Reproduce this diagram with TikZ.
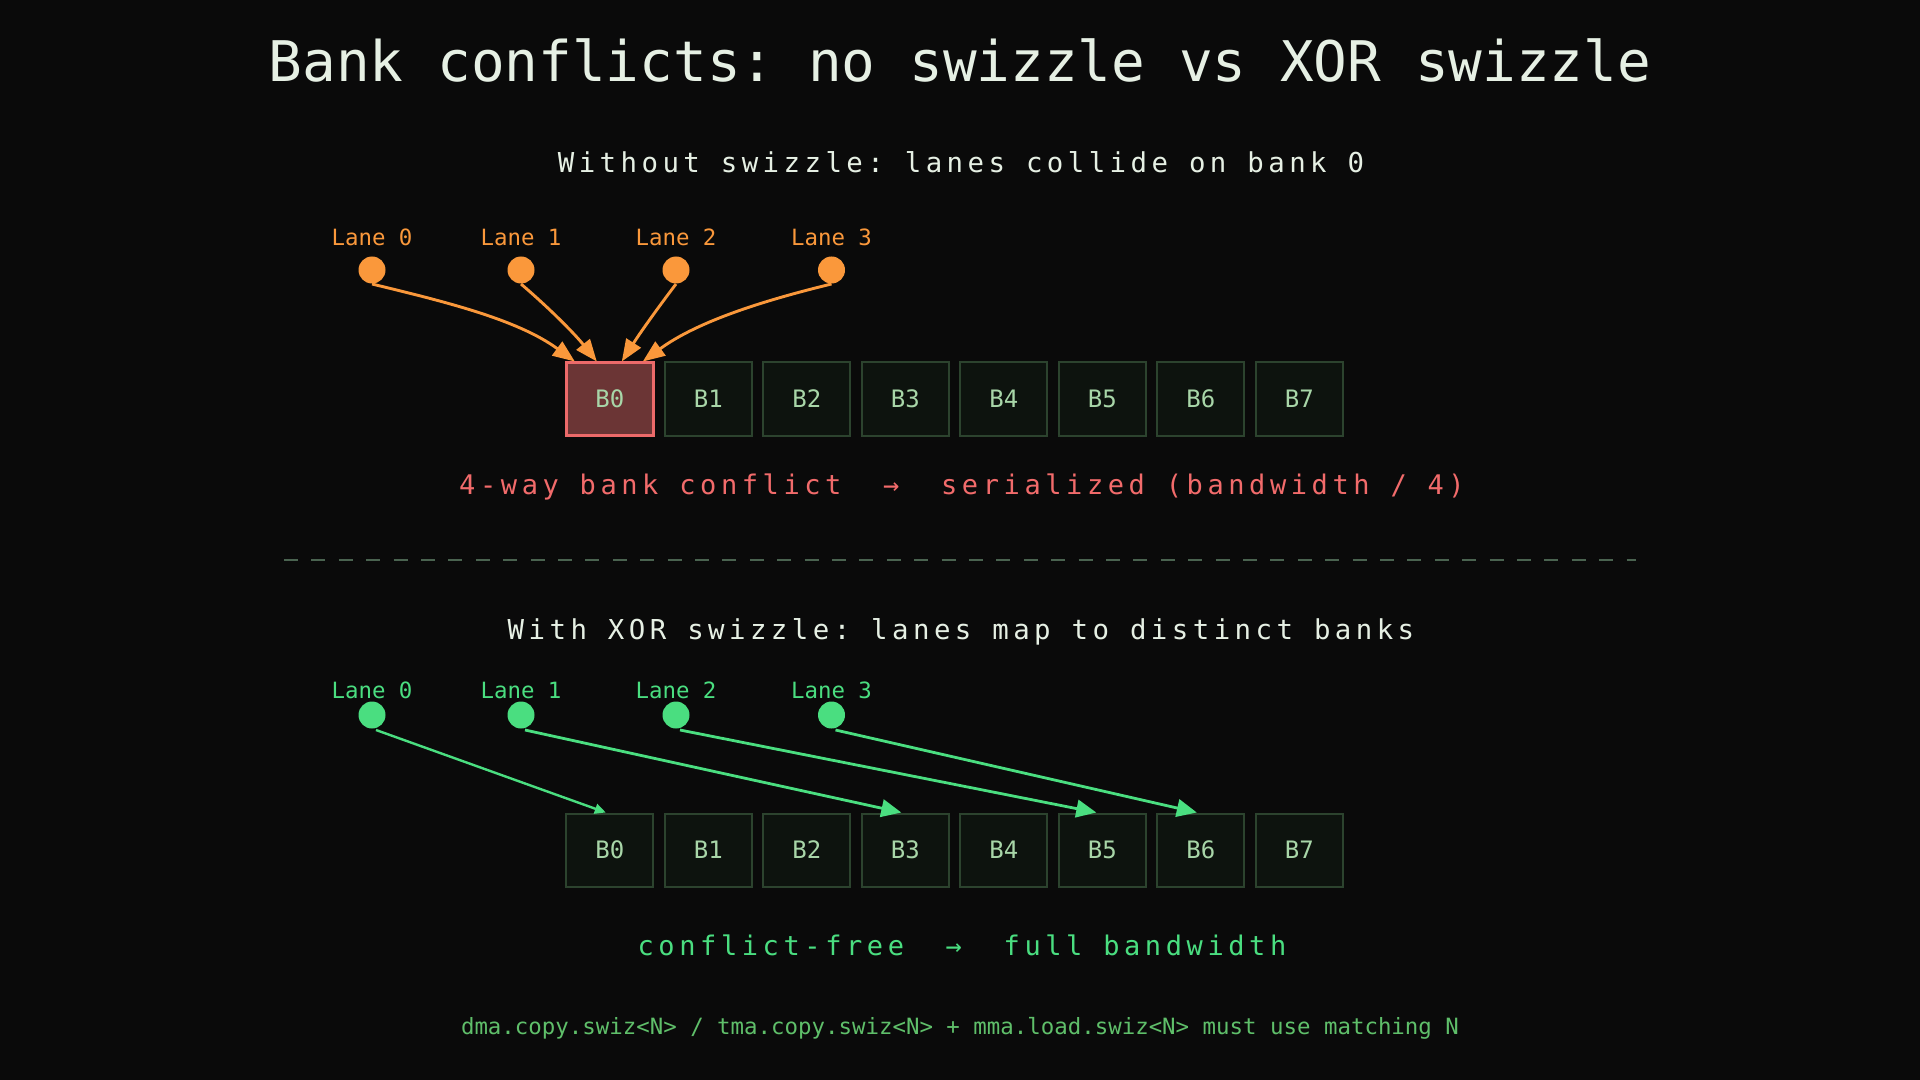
\documentclass[tikz,border=0pt]{standalone}
\usepackage{fontspec}
\setmainfont{DejaVu Sans Mono}
\setmonofont{DejaVu Sans Mono}
\newfontfamily\subfont[LetterSpace=16.2]{DejaVu Sans Mono}
\newfontfamily\notefont[LetterSpace=17]{DejaVu Sans Mono}
\usetikzlibrary{arrows.meta}
\frenchspacing
\definecolor{bg}{HTML}{0A0A0A}
\definecolor{titlecol}{HTML}{E6F0E4}
\definecolor{orangecol}{HTML}{FA983B}
\definecolor{redtext}{HTML}{F26B6B}
\definecolor{hotfill}{HTML}{6B3535}
\definecolor{hotedge}{HTML}{EC6A6A}
\definecolor{bankfill}{HTML}{0D130E}
\definecolor{bankedge}{HTML}{2C432E}
\definecolor{banktext}{HTML}{A8D6A8}
\definecolor{greencol}{HTML}{4ADE80}
\definecolor{footcol}{HTML}{5FBF6A}
\definecolor{dashcol}{HTML}{4A6350}
\tikzset{
  lanedot/.style={circle, inner sep=0pt, outer sep=0pt, minimum size=13.5pt},
  bank/.style={draw=bankedge, fill=bankfill, line width=1pt, minimum width=43.5pt, minimum height=36.5pt, inner sep=0pt, outer sep=0pt, text=banktext, font=\fontsize{12}{14}\selectfont},
  hotbank/.style={bank, draw=hotedge, fill=hotfill, line width=1.5pt},
  lanelabel/.style={anchor=base, inner sep=0pt, font=\fontsize{11.2}{13}\selectfont},
  oarrow/.style={draw=orangecol, line width=1.45pt, -{Triangle[length=11pt,width=8.5pt]}},
  garrow/.style={draw=greencol, line width=1.4pt, -{Triangle[length=10pt,width=8.8pt]}},
  garrowsmall/.style={draw=greencol, line width=1.2pt, -{Triangle[length=5.5pt,width=5pt]}},
  txt/.style={anchor=base, inner sep=0pt},
}
\begin{document}
\begin{tikzpicture}[x=0.5pt,y=-0.5pt]
\fill[bg] (0,0) rectangle (1920,1080);
\useasboundingbox (0,0) rectangle (1920,1080);

% title
\node[txt, text=titlecol, font=\fontsize{28}{32}\selectfont] (title) at (960,82) {Bank conflicts: no swizzle vs XOR swizzle};

% ---------- top section ----------
\node[txt, text=titlecol, font=\subfont\fontsize{13.7}{16}\selectfont] (sub1) at (961,173) {Without swizzle: lanes collide on bank 0};

\foreach \n/\x in {0/372,1/521,2/676,3/831.5}{
  \node[lanedot, fill=orangecol] (l\n) at (\x,270) {};
  \node[lanelabel, text=orangecol] (ll\n) at (\x,246) {Lane \n};
}

\node[hotbank] (a0) at (609.8,399) {B0};
\foreach \i in {1,...,7}{
  \node[bank] (a\i) at ({609.8+98.5*\i},399) {B\i};
}

\draw[oarrow] ([shift={(0,0.5)}]l0.south) .. controls (442,301) and (517,319) .. ([shift={(-35,-1)}]a0.north);
\draw[oarrow] ([shift={(0,0.5)}]l1.south) .. controls (548,307) and (574,333) .. ([shift={(-13,-1)}]a0.north);
\draw[oarrow] ([shift={(0,0.5)}]l2.south) .. controls (657,309) and (640,333) .. ([shift={(12,-1)}]a0.north);
\draw[oarrow] ([shift={(0,0.5)}]l3.south) .. controls (765.5,300) and (698,321) .. ([shift={(33,-1)}]a0.north);

\node[txt, text=redtext, font=\notefont\fontsize{13.5}{16}\selectfont] (conf) at (962,494) {4-way bank conflict\ \ →\ \ serialized (bandwidth / 4)};

% separator
\coordinate (sepL) at (284,560);
\coordinate (sepR) at (1636,560);
\draw[dashcol, line width=1pt, dash pattern=on 7pt off 6.7pt] (sepL) -- (sepR);

% ---------- bottom section ----------
\node[txt, text=titlecol, font=\subfont\fontsize{13.7}{16}\selectfont] (sub2) at (961,639) {With XOR swizzle: lanes map to distinct banks};

\foreach \n/\x in {0/372,1/521,2/676,3/831.5}{
  \node[lanedot, fill=greencol] (m\n) at (\x,715) {};
  \node[lanelabel, text=greencol] (ml\n) at (\x,698) {Lane \n};
}

\foreach \i in {0,...,7}{
  \node[bank] (c\i) at ({609.8+98.5*\i},850) {B\i};
}

\draw[garrowsmall] ([shift={(4,1.5)}]m0.south) -- ([shift={(-4,-1)}]c0.north);
\draw[garrow] ([shift={(4,1.5)}]m1.south) -- ([shift={(-4,-1)}]c3.north);
\draw[garrow] ([shift={(4,1.5)}]m2.south) -- ([shift={(-6,-1)}]c5.north);
\draw[garrow] ([shift={(4,1.5)}]m3.south) -- ([shift={(-4,-1)}]c6.north);

\node[txt, text=greencol, font=\notefont\fontsize{13.5}{16}\selectfont] (free) at (962,955) {conflict-free\ \ →\ \ full bandwidth};

\node[txt, text=footcol, font=\fontsize{11.2}{13}\selectfont] (foot) at (960,1034) {dma.copy.swiz<N> / tma.copy.swiz<N> + mma.load.swiz<N> must use matching N};
\end{tikzpicture}
\end{document}
